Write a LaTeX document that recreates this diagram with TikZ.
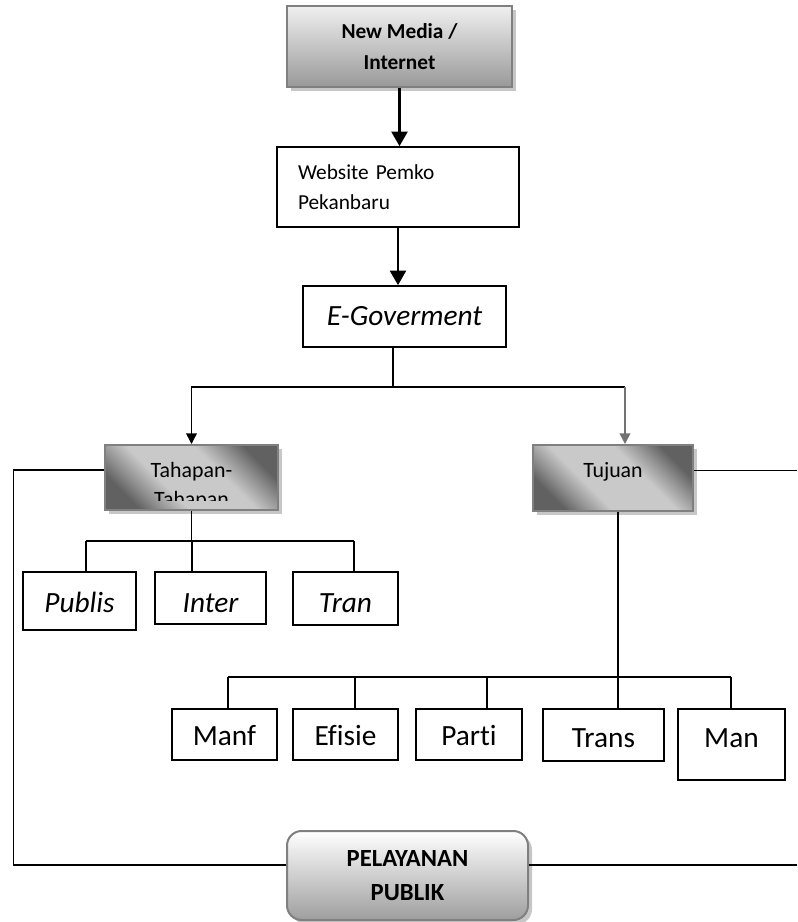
\documentclass[tikz,border=0pt]{standalone}
\usepackage{fontspec}
\setmainfont{Carlito}[Ligatures=NoCommon]
\usetikzlibrary{arrows.meta, shadows, positioning}

\pgfdeclareverticalshading{cornershade}{100bp}{color(0bp)=(black!62); color(25bp)=(black!62); color(32bp)=(black!42); color(40bp)=(black!21); color(60bp)=(black!21); color(68bp)=(black!42); color(75bp)=(black!62); color(100bp)=(black!62)}

\begin{document}
\begin{tikzpicture}[
    x=0.75pt, y=-0.75pt,
    line/.style={line width=1.1pt},
    bigarrow/.style={line width=2pt, -{Triangle[length=11pt, width=12pt]}},
    smallarrow/.style={line width=1.1pt, -{Triangle[length=8pt, width=8pt]}},
    box/.style={draw, line width=1.2pt, inner sep=0pt, align=center},
    shadebox/.style={
        draw=black!50,
        line width=1.5pt,
        inner sep=0pt,
        drop shadow={shadow xshift=3pt, shadow yshift=-3pt, fill=black!22, opacity=1}
    },
    diagshade/.style={shadebox, shade, shading=cornershade, shading angle=-45},
    bigtext/.style={font=\fontsize{22}{26}\selectfont, text height=15pt, text depth=0pt},
    bigital/.style={font=\fontsize{22}{26}\selectfont\itshape, text height=15pt, text depth=0pt},
    tagtext/.style={inner sep=0pt, align=center, font=\fontsize{16.4}{21.75}\selectfont}
]
\useasboundingbox (0,0) rectangle (797,922);

% Block 1: New Media / Internet (top)
\node[shadebox, top color=black!6, bottom color=black!40, align=center,
      minimum width=168.75pt, minimum height=60.75pt,
      font=\fontsize{16}{23.25}\selectfont\bfseries] (media) at (399.5,46.5)
    {New Media /\\Internet};

% Block 2: Website
\node[box, align=left, text width=150pt, inner xsep=15.75pt, minimum height=60pt,
      font=\fontsize{16}{22.5}\selectfont] (web) at (398,187)
    {Website Pemko\\Pekanbaru};

% Block 3: E-Goverment
\node[box, bigital, text height=12.75pt, minimum width=152.25pt, minimum height=45.75pt] (egov) at (404.5,316.5) {E-Goverment};

% Block 4: Tahapan (left) and Tujuan (right), shaded
\node[diagshade, minimum width=129.75pt, minimum height=48.75pt] (tahap) at (191.5,477.5) {};
\begin{scope}
    \clip (tahap.north west) rectangle ([yshift=8.25pt]tahap.south east);
    \node[tagtext, anchor=base] (tahaptext) at (191.5,506) {Tahapan-\\Tahapan};
\end{scope}
\node[diagshade, minimum width=120pt, minimum height=49.5pt] (tujuan) at (613,478) {};
\node[tagtext, anchor=base] (tujuantext) at (613,477) {Tujuan};

% Tahapan children
\node[box, bigital, text height=16.5pt, minimum width=84.75pt, minimum height=43.5pt] (publis) at (79.5,601) {Publis};
\node[box, bigital, text height=21pt, minimum width=83.25pt, minimum height=39pt] (inter) at (210.5,598) {Inter};
\node[box, bigital, text height=20.25pt, minimum width=78.75pt, minimum height=39.75pt] (tran) at (345.5,598.5) {Tran};

% Tujuan children
\node[box, bigtext, text height=15.75pt, minimum width=78.75pt, minimum height=38.25pt] (manf) at (224.5,734.5) {Manf};
\node[box, bigtext, text height=15.75pt, minimum width=78.75pt, minimum height=38.25pt] (efisie) at (345.5,734.5) {Efisie};
\node[box, bigtext, text height=15.75pt, minimum width=79.5pt, minimum height=38.25pt] (parti) at (469,734.5) {Parti};
\node[box, bigtext, text height=18pt, minimum width=90.75pt, minimum height=39pt] (trans) at (603.5,735) {Trans};
\node[box, bigtext, text depth=11.25pt, minimum width=80.25pt, minimum height=53.25pt] (man) at (731.5,744.5) {Man};

% Block 5: Pelayanan Publik (bottom)
\node[shadebox, rounded corners=11pt, top color=white, bottom color=black!38, align=center,
      minimum width=180.75pt, minimum height=66.75pt,
      font=\fontsize{18.5}{25.5}\selectfont\bfseries] (pel) at (407.5,875.5)
    {PELAYANAN\\PUBLIK};

% connectors
\coordinate (fork) at (393,387);
\coordinate (tujtop) at ([xshift=9pt]tujuan.north);
\coordinate (leftrail) at (13.5,0);
\coordinate (rightedge) at (797,0);
\coordinate (tahapL) at ([yshift=5.6pt]tahap.west);
\coordinate (tujuanR) at ([yshift=5.6pt]tujuan.east);
\coordinate (pelL) at ([yshift=7.9pt]pel.west);
\coordinate (pelR) at ([yshift=7.9pt]pel.east);

\draw[bigarrow] (media.south) -- (media.south |- web.north);
\draw[bigarrow] (web.south) -- (web.south |- egov.north);

\draw[line] (fork |- egov.south) -- (fork);
\draw[smallarrow] (fork) -| (tahap.north);
\draw[line] (fork) -- (fork -| tujtop);
\draw[smallarrow, black!55] (fork -| tujtop) -- (tujtop);

% Tahapan branches
\coordinate (pb) at (86,541);
\coordinate (ib) at (192,541);
\coordinate (trb) at (354,541);
\draw[line] (tahap.south) -- (tahap.south |- ib);
\draw[line] (pb) -- (trb);
\draw[line] (pb) -- (pb |- publis.north);
\draw[line] (ib) -- (ib |- inter.north);
\draw[line] (trb) -- (trb |- tran.north);

% Tujuan branches
\coordinate (jb) at ([xshift=3.75pt]tujuan.south);
\coordinate (mfb) at (228,677);
\coordinate (efb) at (355,677);
\coordinate (pab) at (487,677);
\coordinate (mnb) at (731,677);
\draw[line] (jb) -- (jb |- trans.north);
\draw[line] (mfb) -- (mnb);
\draw[line] (mfb) -- (mfb |- manf.north);
\draw[line] (efb) -- (efb |- efisie.north);
\draw[line] (pab) -- (pab |- parti.north);
\draw[line] (mnb) -- (mnb |- man.north);

% side rails
\draw[line] (tahapL) -| (leftrail |- pelL) -- (pelL);
\draw[line] (tujuanR) -- (tujuanR -| rightedge);
\draw[line] (pelR) -- (pelR -| rightedge);

\end{tikzpicture}
\end{document}
